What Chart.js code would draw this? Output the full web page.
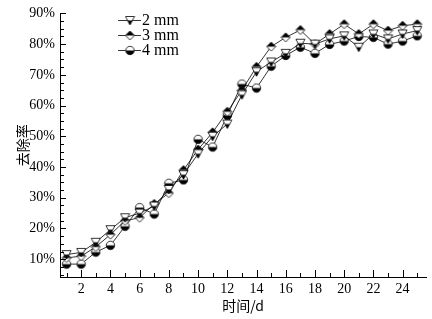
<!DOCTYPE html>
<html>
<head>
<meta charset="utf-8">
<script src="https://cdn.jsdelivr.net/npm/chart.js@4.4.1/dist/chart.umd.min.js"></script>
<style>
  html, body { margin: 0; padding: 0; background: #fff; }
  #wrap { width: 432px; height: 319px; }
</style>
</head>
<body>
<div id="wrap"><canvas id="removalChart" width="432" height="319"></canvas></div>
<script>
// data (removal rate %, per day)
const days = [1, 2, 3, 4, 5, 6, 7, 8, 9, 10, 11, 12, 13, 14, 15, 16, 17, 18, 19, 20, 21, 22, 23, 24, 25];
const rate2mm = [11.5, 12.2, 15.5, 19.6, 23.5, 25, 27.3, 32.7, 37.5, 44.3, 50, 54, 63.5, 71, 74.2, 77, 80.3, 80, 81.7, 82.7, 79, 83.3, 81.7, 83.3, 84.4];
const rate3mm = [10.4, 11, 14, 18, 22.5, 23.5, 28, 31.5, 39, 45.7, 51.3, 58, 65, 72.6, 79.2, 82.2, 84.6, 80, 83.3, 86.5, 83.3, 86.5, 84.4, 86, 86.5];
const rate4mm = [8.4, 8.4, 12.3, 14.5, 20.7, 26.8, 24.7, 34.7, 35.8, 49, 46.5, 56.8, 67, 65.7, 72.8, 76.3, 79, 77, 79.9, 81, 82.5, 82.2, 80, 81, 82.7];
const seriesNames = ['2 mm', '3 mm', '4 mm'];
const xLabels = [2, 4, 6, 8, 10, 12, 14, 16, 18, 20, 22, 24];
const yLabels = [10, 20, 30, 40, 50, 60, 70, 80, 90];

// half filled markers
function makeMarker(kind) {
    const c = document.createElement('canvas');
    c.width = 11; c.height = 11;
    const g = c.getContext('2d');
    g.beginPath();
    if (kind === 'tri') {
        g.moveTo(1, 1.5); g.lineTo(10, 1.5); g.lineTo(5.5, 10); g.closePath();
    } else if (kind === 'dia') {
        g.moveTo(5.5, 1); g.lineTo(10, 5.5); g.lineTo(5.5, 10); g.lineTo(1, 5.5); g.closePath();
    } else {
        g.arc(5.5, 5.5, 4.2, 0, Math.PI * 2);
    }
    g.fillStyle = '#fff';
    g.fill();
    g.save();
    g.clip();
    g.fillStyle = '#000';
    if (kind === 'dia') g.fillRect(0, 0, 11, 5.5);
    else g.fillRect(0, 5.5, 11, 6);
    g.restore();
    g.lineWidth = 0.8;
    g.strokeStyle = '#000';
    g.stroke();
    return c;
}
const markers = [makeMarker('tri'), makeMarker('dia'), makeMarker('circ')];

const toPoints = arr => arr.map((v, i) => ({ x: days[i], y: v }));

// inward tick marks + in-plot legend
const axisDecor = {
    id: 'axisDecor',
    afterDraw(chart) {
        const { ctx, chartArea, scales } = chart;
        ctx.save();
        ctx.strokeStyle = '#000';
        ctx.lineWidth = 1;
        ctx.beginPath();
        for (let d = 1; d <= 25; d++) {
            const px = Math.round(scales.x.getPixelForValue(d)) + 0.5;
            const len = d % 2 === 0 ? 7 : 4;
            ctx.moveTo(px, chartArea.bottom);
            ctx.lineTo(px, chartArea.bottom - len);
        }
        for (let v = 5; v <= 90; v += 2.5) {
            const py = Math.round(scales.y.getPixelForValue(v)) + 0.5;
            const len = v % 10 === 0 ? 6 : 4;
            ctx.moveTo(chartArea.left, py);
            ctx.lineTo(chartArea.left + len, py);
        }
        ctx.stroke();

        // legend
        ctx.font = '16px "Liberation Serif", serif';
        ctx.textBaseline = 'middle';
        ctx.fillStyle = '#000';
        ctx.lineWidth = 0.8;
        seriesNames.forEach((name, i) => {
            const y = 20.5 + i * 15;
            ctx.beginPath();
            ctx.moveTo(118, y);
            ctx.lineTo(141, y);
            ctx.stroke();
            ctx.drawImage(markers[i], 130 - 5.5, y - 5.5);
            ctx.fillText(name, 142, y + 0.5);
        });
        ctx.restore();
    }
};

const lineStyle = { borderColor: '#000', borderWidth: 0.8, tension: 0, pointRadius: 5, pointHoverRadius: 5 };

new Chart(document.getElementById('removalChart'), {
    type: 'line',
    data: {
        datasets: [
            { label: seriesNames[0], data: toPoints(rate2mm), pointStyle: markers[0], ...lineStyle },
            { label: seriesNames[1], data: toPoints(rate3mm), pointStyle: markers[1], ...lineStyle },
            { label: seriesNames[2], data: toPoints(rate4mm), pointStyle: markers[2], ...lineStyle }
        ]
    },
    options: {
        responsive: false,
        animation: false,
        events: [],
        layout: { padding: { left: 0, top: 9, right: 6, bottom: 0 } },
        plugins: { legend: { display: false }, tooltip: { enabled: false } },
        scales: {
            x: {
                type: 'linear',
                min: 0.55,
                max: 25.6,
                afterFit: s => { s.height = 42; },
                afterBuildTicks: s => { s.ticks = xLabels.map(v => ({ value: v })); },
                grid: { display: false, drawTicks: false },
                border: { display: true, color: '#000', width: 1 },
                ticks: {
                    autoSkip: false, maxRotation: 0, padding: 4, color: '#000',
                    font: { family: '"Liberation Serif", serif', size: 14 }
                },
                title: {
                    display: true, text: '时间/d', color: '#000',
                    font: { family: '"Noto Sans CJK SC", sans-serif', size: 14 },
                    padding: { top: 0, bottom: 5 }
                }
            },
            y: {
                min: 4.2,
                max: 90,
                afterFit: s => { s.width = 60; },
                afterBuildTicks: s => { s.ticks = yLabels.map(v => ({ value: v })); },
                grid: { display: false, drawTicks: false },
                border: { display: true, color: '#000', width: 1 },
                ticks: {
                    padding: 5, color: '#000',
                    font: { family: '"Liberation Serif", serif', size: 14 },
                    callback: v => v + '%'
                },
                title: {
                    display: true, text: '去除率', color: '#000',
                    font: { family: '"Noto Sans CJK SC", sans-serif', size: 14 },
                    padding: { top: 14, bottom: 0 }
                }
            }
        }
    },
    plugins: [axisDecor]
});
</script>
</body>
</html>
